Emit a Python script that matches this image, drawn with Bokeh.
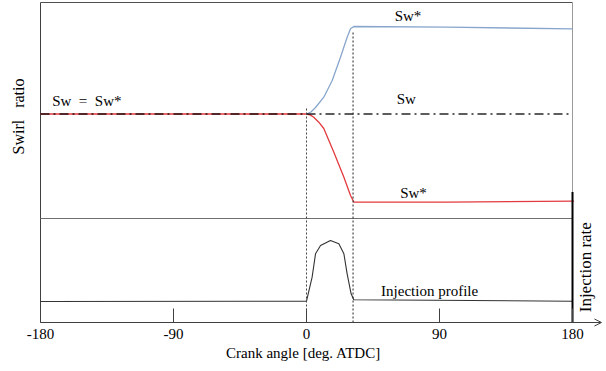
from math import pi
from bokeh.plotting import figure
from bokeh.models import Range1d, FixedTicker, Label, Arrow, OpenHead
from bokeh.embed import file_html
from bokeh.resources import INLINE

# ---------------- data ----------------
crank_ticks = [-180, -90, 0, 90, 180]
tick_labels = ["-180", "-90", "0", "90", "180"]
angle_min, angle_max = -180, 180

# swirl panel (arbitrary schematic units)
sw_level = 208.5
sw_x = [-180, 180]
sw_y = [sw_level, sw_level]

sw_star_up_x = [0, 3, 6.1, 11.7, 17.4, 23, 27.5, 29.8, 32, 95, 180]
sw_star_up_y = [208.5, 210.5, 215, 225.3, 242, 265.3, 285.3, 293.7, 296, 295.3, 293.7]

sw_star_down_x = [-180, 0, 2.5, 4.9, 8.3, 11.7, 18.5, 25.3, 29.8, 32, 95, 181]
sw_star_down_y = [208.5, 208.5, 207.6, 205.3, 200.3, 194, 170.3, 145.3, 127, 120.5, 120.3, 121.3]

# injection panel
inj_x = [-180, 0, 3.8, 6.1, 9.5, 16.2, 21.9, 25.3, 27.5, 30.2, 32, 180]
inj_y = [21, 21.3, 45.3, 68.7, 77, 82, 78.7, 68.7, 48.7, 28.7, 22.7, 21.3]

# event markers (start / end of injection)
soi_x, soi_top = 0, 215
eoi_x, eoi_top = 31.5, 292

panel_top = 320
panel_split = 104
inj_axis_top = 130.5
axis_arrow_end = 199.6
tick_len = 14

# ---------------- figure ----------------
PX = 1.4778  # pixels per degree
x0 = -180 - 40 / PX
x1 = x0 + 606 / PX

p = figure(width=606, height=371, x_range=Range1d(x0, x1), y_range=Range1d(-7, 322),
           output_backend="svg", toolbar_location=None, y_axis_location=None,
           min_border_left=0, min_border_right=0, min_border_top=0, min_border_bottom=42,
           outline_line_color=None, background_fill_color="white")
p.grid.visible = False

SERIF = "Liberation Serif"
AXC = "#404040"

# box
p.line([angle_min, angle_min], [0, panel_top], line_color=AXC, line_width=1)
p.line([angle_min, angle_max], [panel_top, panel_top], line_color="#505050", line_width=1)
p.line([angle_max, angle_max], [0, panel_top], line_color="#9a9a9a", line_width=1)
p.line([angle_min, angle_max], [panel_split, panel_split], line_color="#707070", line_width=1)

# curves
p.line(sw_star_down_x, sw_star_down_y, line_color="#e23a3e", line_width=1.3)
p.line(sw_star_up_x, sw_star_up_y, line_color="#88a6cc", line_width=1.3)
p.line(sw_x, sw_y, line_color="black", line_width=1.5, line_dash="9 4 2 4", line_alpha=0.85)
p.line(inj_x, inj_y, line_color="#333333", line_width=1.1)

# markers
p.line([soi_x, soi_x], [0, soi_top], line_color="#444444", line_dash="2 2", line_width=1)
p.line([eoi_x, eoi_x], [0, eoi_top], line_color="#222222", line_dash="2 2", line_width=1)

# injection rate axis
p.line([angle_max, angle_max], [0, inj_axis_top], line_color="black", line_width=2)

# crank-angle axis line with arrow, and inward ticks
p.add_layout(Arrow(end=OpenHead(size=7, line_color=AXC, line_width=1),
                   x_start=angle_min, y_start=0, x_end=axis_arrow_end, y_end=0,
                   line_color=AXC, line_width=1))
p.segment(x0=crank_ticks, y0=[0] * len(crank_ticks), x1=crank_ticks,
          y1=[tick_len] * len(crank_ticks), line_color=AXC, line_width=1)

# x axis (labels only)
ax = p.xaxis[0]
ax.ticker = FixedTicker(ticks=crank_ticks)
ax.major_label_overrides = {t: l for t, l in zip(crank_ticks, tick_labels)}
ax.bounds = (angle_min, angle_max)
ax.axis_line_color = None
ax.major_tick_line_color = None
ax.major_tick_in = 0
ax.major_tick_out = 0
ax.minor_tick_line_color = None
ax.major_label_text_font = SERIF
ax.major_label_text_font_size = "15px"
ax.major_label_text_color = "black"
ax.major_label_standoff = -1
ax.axis_label = "Crank angle [deg. ATDC]"
ax.axis_label_text_font = SERIF
ax.axis_label_text_font_size = "15px"
ax.axis_label_text_font_style = "normal"
ax.axis_label_text_color = "black"
ax.axis_label_standoff = 3

def lab(x, y, text, size="15px", align="center", angle=0.0):
    p.add_layout(Label(x=x, y=y, text=text, text_font=SERIF, text_font_size=size,
                       text_align=align, text_baseline="middle", angle=angle,
                       text_color="black"))

lab(-172.1, 222, "Sw\u00a0 =\u00a0 Sw*", align="left")
lab(68.7, 307, "Sw*")
lab(67.5, 223.7, "Sw")
lab(72.4, 129.7, "Sw*")
lab(83.3, 32, "Injection profile")
lab(-194.9, 206, "Swirl\u00a0 \u00a0ratio", size="16px", angle=pi / 2)
lab(188.5, 55.3, "Injection rate", size="17px", angle=pi / 2)

open("out.html", "w").write(file_html(p, INLINE))
